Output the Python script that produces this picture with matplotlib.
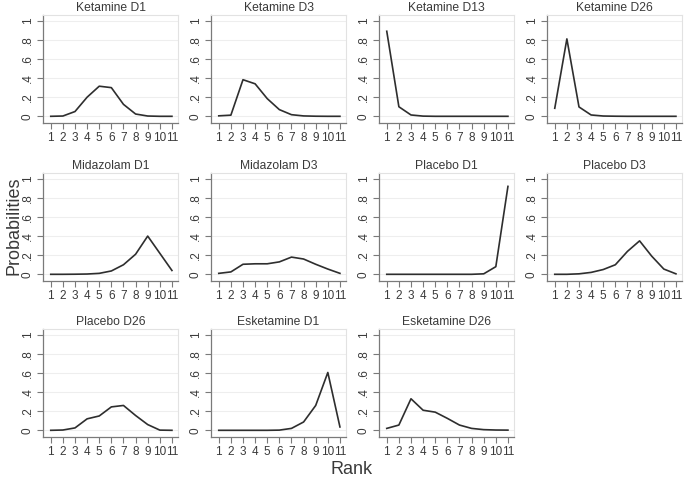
import matplotlib
matplotlib.use("Agg")
import matplotlib.pyplot as plt
import numpy as np

ranks = list(range(1, 12))

titles = [
    "Ketamine D1", "Ketamine D3", "Ketamine D13", "Ketamine D26",
    "Midazolam D1", "Midazolam D3", "Placebo D1", "Placebo D3",
    "Placebo D26", "Esketamine D1", "Esketamine D26",
]

ketamine_d1 = [0.0, 0.003, 0.05, 0.20, 0.315, 0.30, 0.125, 0.024, 0.003, 0.0, 0.0]
ketamine_d3 = [0.005, 0.012, 0.383, 0.34, 0.185, 0.07, 0.017, 0.004, 0.001, 0.0, 0.0]
ketamine_d13 = [0.89, 0.10, 0.014, 0.002, 0.0, 0.0, 0.0, 0.0, 0.0, 0.0, 0.0]
ketamine_d26 = [0.084, 0.81, 0.098, 0.014, 0.003, 0.001, 0.0, 0.0, 0.0, 0.0, 0.0]
midazolam_d1 = [0.0, 0.0, 0.001, 0.003, 0.01, 0.035, 0.10, 0.21, 0.40, 0.22, 0.04]
midazolam_d3 = [0.01, 0.025, 0.105, 0.11, 0.11, 0.13, 0.18, 0.16, 0.105, 0.055, 0.01]
placebo_d1 = [0.0, 0.0, 0.0, 0.0, 0.0, 0.0, 0.0, 0.0, 0.005, 0.08, 0.92]
placebo_d3 = [0.0, 0.0, 0.005, 0.02, 0.05, 0.10, 0.24, 0.35, 0.19, 0.055, 0.005]
placebo_d26 = [0.0, 0.003, 0.025, 0.12, 0.15, 0.245, 0.26, 0.155, 0.06, 0.002, 0.0]
esketamine_d1 = [0.0, 0.0, 0.0, 0.0, 0.0, 0.002, 0.02, 0.087, 0.26, 0.605, 0.035]
esketamine_d26 = [0.02, 0.055, 0.33, 0.21, 0.19, 0.125, 0.055, 0.02, 0.007, 0.003, 0.002]

series = [
    ketamine_d1, ketamine_d3, ketamine_d13, ketamine_d26,
    midazolam_d1, midazolam_d3, placebo_d1, placebo_d3,
    placebo_d26, esketamine_d1, esketamine_d26,
]

y_ticks = [0, 0.2, 0.4, 0.6, 0.8, 1.0]
y_tick_labels = ["0", ".2", ".4", ".6", ".8", "1"]

plt.rcParams["font.family"] = ["Liberation Sans", "DejaVu Sans"]

W, H = 685, 480
fig = plt.figure(figsize=(W / 100, H / 100), dpi=100)

# panel boxes in pixels (left edges per column, top edges per row)
col_left = [43, 211, 379, 547]
row_top = [15, 173, 329]
panel_w, panel_h = 135, 108
text_color = "#3a3a3a"
axis_color = "#7a7a7a"

for idx, (title, values) in enumerate(zip(titles, series)):
    r, c = divmod(idx, 4)
    left = col_left[c] / W
    bottom = 1 - (row_top[r] + panel_h) / H
    ax = fig.add_axes([left, bottom, panel_w / W, panel_h / H])
    ax.plot(ranks, values, color="#2e2e2e", linewidth=1.2)
    ax.set_xlim(0.36, 11.5)
    ax.set_ylim(-0.07, 1.06)
    ax.set_xticks(ranks)
    ax.set_xticklabels([str(v) for v in ranks])
    ax.set_yticks(y_ticks)
    ax.set_yticklabels(y_tick_labels, rotation=90, va="center")
    ax.grid(axis="y", color="#eeeeee", linewidth=0.8)
    ax.set_axisbelow(True)
    for side in ["left", "bottom"]:
        ax.spines[side].set_color(axis_color)
        ax.spines[side].set_linewidth(0.9)
    for side in ["top", "right"]:
        ax.spines[side].set_color("#e2e2e2")
        ax.spines[side].set_linewidth(0.8)
    ax.tick_params(direction="out", length=4, width=0.8, color=axis_color,
                   labelsize=8.5, labelcolor=text_color, pad=2.5)
    ax.set_title(title, fontsize=8.7, color=text_color, pad=3)

fig.text(14 / W, 1 - 226 / H, "Probabilities", rotation=90, ha="center", va="center",
         fontsize=13, color=text_color)
fig.text(352 / W, 1 - 469 / H, "Rank", ha="center", va="center",
         fontsize=13, color=text_color)

fig.savefig("out.png", dpi=100)
